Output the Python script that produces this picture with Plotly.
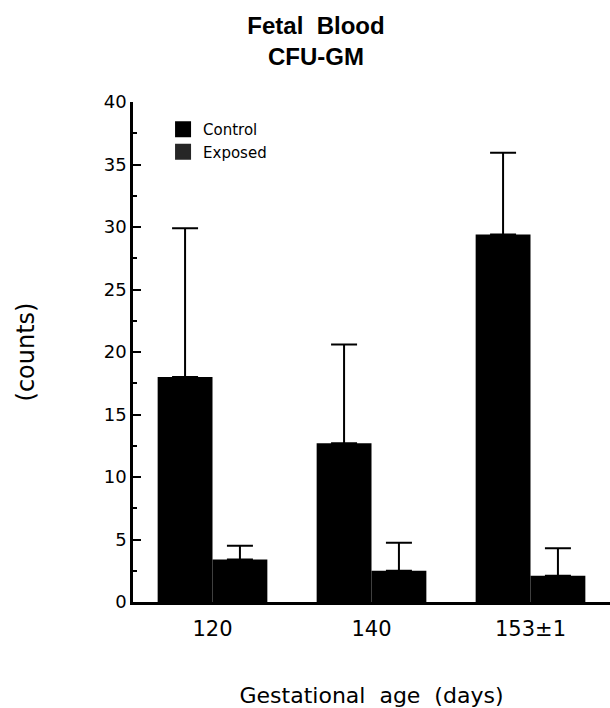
import plotly.graph_objects as go

categories = ["120", "140", "153±1"]
control_mean = [18.0, 12.7, 29.4]
control_err = [11.9, 7.9, 6.55]
exposed_mean = [3.4, 2.5, 2.1]
exposed_err = [1.1, 2.25, 2.2]
y_ticks = [0, 5, 10, 15, 20, 25, 30, 35, 40]

BODY = "DejaVu Sans, Liberation Sans, Arial, sans-serif"
BOLD = "Liberation Sans, Arial, Helvetica, sans-serif"

fig = go.Figure()
fig.add_trace(go.Bar(
    x=categories, y=control_mean, name="Control", showlegend=False,
    marker=dict(color="black", line=dict(width=0)),
    error_y=dict(type="data", array=control_err, arrayminus=[0, 0, 0], symmetric=False,
                 color="black", thickness=2, width=13),
))
fig.add_trace(go.Bar(
    x=categories, y=exposed_mean, name="Exposed", showlegend=False,
    marker=dict(color="black", line=dict(width=0)),
    error_y=dict(type="data", array=exposed_err, arrayminus=[0, 0, 0], symmetric=False,
                 color="black", thickness=2, width=13),
))
# legend entries
fig.add_trace(go.Scatter(x=[None], y=[None], mode="markers", name="Control",
                         marker=dict(symbol="square", size=16, color="black")))
fig.add_trace(go.Scatter(x=[None], y=[None], mode="markers", name="Exposed",
                         marker=dict(symbol="square", size=16, color="#262626")))

fig.update_layout(
    width=610, height=708,
    margin=dict(l=133, r=0, t=102, b=106),
    paper_bgcolor="white", plot_bgcolor="white",
    barmode="group", bargap=0.31, bargroupgap=0,
    font=dict(family=BODY, color="black"),
    title=dict(text="Fetal  Blood<br>CFU-GM", x=0.518, xanchor="center",
               y=0.952, yanchor="top", yref="container",
               font=dict(family=BOLD, size=24, color="black", weight="bold")),
    legend=dict(x=0.063, y=0.978, xanchor="left", yanchor="top",
                font=dict(family=BODY, size=15, color="black"),
                bgcolor="rgba(0,0,0,0)", borderwidth=0, tracegroupgap=0),
    xaxis=dict(
        type="category", range=[-0.5, 2.5],
        showline=True, linecolor="black", linewidth=2.5,
        ticks="", showgrid=False, zeroline=False,
        tickfont=dict(family=BODY, size=21, color="black"),
        ticklabelstandoff=6,
        title=dict(text="Gestational  age  (days)", standoff=50,
                   font=dict(family=BODY, size=22, color="black")),
    ),
    yaxis=dict(
        range=[0, 40], tickvals=y_ticks, ticktext=[str(v) for v in y_ticks],
        showline=True, linecolor="black", linewidth=2.5,
        ticks="inside", ticklen=8, tickwidth=2, tickcolor="black",
        minor=dict(dtick=2.5, ticks="inside", ticklen=4, tickwidth=2, tickcolor="black"),
        showgrid=False, zeroline=False,
        tickfont=dict(family=BODY, size=18, color="black"),
        title=dict(text="(counts)", standoff=63,
                   font=dict(family=BODY, size=24, color="black")),
    ),
)

fig.write_html("out.html", config={"displayModeBar": False},
               post_script="document.body.style.margin='0';document.body.style.overflow='hidden';")
